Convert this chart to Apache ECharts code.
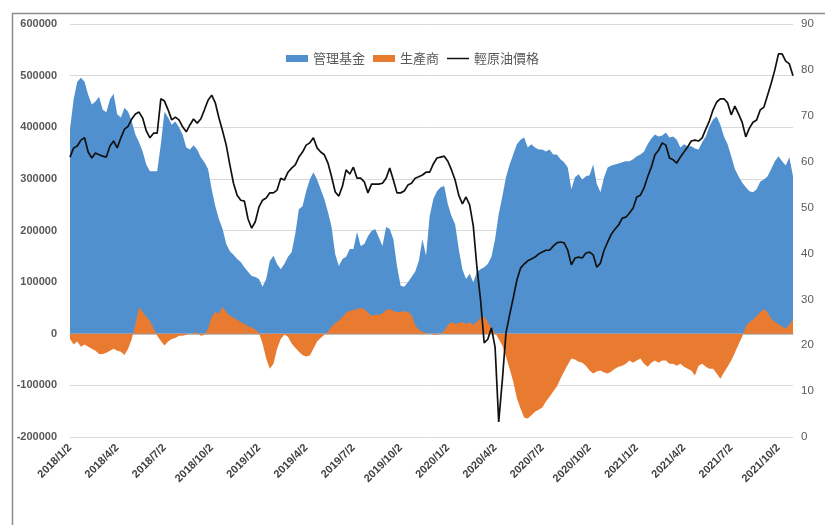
<!DOCTYPE html>
<html>
<head>
<meta charset="utf-8">
<title>管理基金 / 生產商 / 輕原油價格</title>
<script src="https://cdn.jsdelivr.net/npm/echarts@6/dist/echarts.min.js"></script>
<style>
  html, body { margin: 0; padding: 0; background: #fff; }
  #oil-position-echarts { width: 825px; height: 525px; }
</style>
</head>
<body>
<div id="oil-position-echarts"></div>
<script>
// 每週資料，自 2018/1/2 起
var startDate = [2018, 0, 2];

// 管理基金淨部位
var managedMoney = [
  396000, 454000, 488000, 496000, 488000, 463000, 444000, 450000, 459000, 434000,
  429000, 454000, 465000, 425000, 419000, 438000, 430000, 411000, 386000, 371000,
  353000, 328000, 315000, 315000, 315000, 367000, 430000, 419000, 405000, 411000,
  400000, 386000, 361000, 357000, 365000, 357000, 342000, 332000, 319000, 280000,
  247000, 222000, 203000, 174000, 160000, 153000, 145000, 139000, 129000, 120000,
  112000, 110000, 106000, 91000, 106000, 141000, 151000, 135000, 125000, 135000,
  149000, 158000, 193000, 241000, 247000, 276000, 299000, 313000, 299000, 280000,
  261000, 236000, 207000, 154000, 131000, 145000, 149000, 164000, 164000, 197000,
  170000, 174000, 189000, 199000, 203000, 187000, 170000, 207000, 203000, 183000,
  131000, 93000, 91000, 100000, 110000, 120000, 141000, 183000, 151000, 228000,
  261000, 276000, 284000, 286000, 251000, 228000, 212000, 164000, 125000, 106000,
  116000, 100000, 120000, 125000, 129000, 135000, 149000, 183000, 232000, 266000,
  303000, 328000, 347000, 367000, 376000, 380000, 361000, 367000, 361000, 357000,
  357000, 353000, 357000, 347000, 347000, 338000, 332000, 322000, 280000, 303000,
  309000, 299000, 305000, 307000, 328000, 290000, 274000, 303000, 322000, 326000,
  328000, 330000, 332000, 334000, 334000, 338000, 344000, 347000, 353000, 367000,
  378000, 386000, 382000, 384000, 390000, 380000, 382000, 376000, 361000, 367000,
  363000, 363000, 359000, 357000, 371000, 382000, 402000, 415000, 421000, 405000,
  382000, 367000, 344000, 319000, 305000, 293000, 284000, 276000, 274000, 280000,
  295000, 299000, 305000, 319000, 334000, 344000, 334000, 326000, 342000, 305000
];

// 生產商淨部位
var producers = [
  -10000, -21000, -15000, -25000, -21000, -25000, -29000, -33000, -39000, -39000,
  -37000, -33000, -29000, -33000, -35000, -41000, -29000, -10000, 19000, 52000,
  42000, 33000, 25000, 10000, -4000, -14000, -23000, -15000, -10000, -8000,
  -4000, -4000, -2000, 0, 2000, 2000, -4000, -2000, 10000, 33000,
  42000, 39000, 52000, 42000, 35000, 31000, 27000, 23000, 19000, 15000,
  12000, 8000, 2000, -19000, -48000, -68000, -58000, -29000, -10000, -2000,
  -6000, -19000, -27000, -35000, -41000, -44000, -42000, -29000, -15000, -8000,
  -2000, 4000, 14000, 21000, 25000, 33000, 41000, 44000, 46000, 48000,
  50000, 48000, 41000, 35000, 37000, 37000, 39000, 46000, 48000, 44000,
  42000, 42000, 44000, 42000, 37000, 17000, 8000, 4000, 2000, 0,
  -2000, -2000, 0, 6000, 17000, 23000, 19000, 21000, 23000, 19000,
  23000, 17000, 23000, 31000, 33000, 23000, 12000, 2000, -10000, -23000,
  -44000, -68000, -93000, -125000, -145000, -162000, -164000, -158000, -151000, -147000,
  -143000, -131000, -122000, -112000, -102000, -87000, -73000, -60000, -48000, -50000,
  -54000, -56000, -62000, -71000, -77000, -73000, -71000, -75000, -77000, -73000,
  -68000, -64000, -62000, -58000, -52000, -56000, -52000, -48000, -58000, -64000,
  -56000, -52000, -56000, -52000, -52000, -58000, -58000, -62000, -58000, -64000,
  -68000, -71000, -81000, -62000, -58000, -64000, -68000, -68000, -77000, -87000,
  -75000, -64000, -52000, -37000, -21000, -6000, 14000, 23000, 27000, 35000,
  42000, 48000, 41000, 29000, 23000, 19000, 14000, 10000, 17000, 29000
];

// 輕原油價格
var oilPrice = [
  61.0, 63.0, 63.4, 64.7, 65.2, 62.1, 60.8, 61.9, 61.5, 61.2,
  61.0, 63.4, 64.5, 63.0, 65.2, 67.1, 67.7, 69.3, 70.4, 70.8,
  69.5, 66.7, 65.2, 66.2, 66.2, 73.7, 73.2, 71.3, 69.1, 69.7,
  69.1, 67.6, 66.5, 68.0, 69.3, 68.4, 69.3, 71.3, 73.4, 74.5,
  72.8, 69.5, 66.7, 63.6, 59.3, 55.3, 52.7, 51.6, 51.4, 47.5,
  45.5, 46.9, 50.1, 51.6, 52.1, 53.2, 53.2, 53.8, 56.4, 56.0,
  57.7, 58.6, 59.3, 61.0, 62.1, 63.6, 64.1, 65.2, 63.0, 62.1,
  61.5, 59.7, 56.7, 53.4, 52.5, 54.7, 58.2, 57.3, 58.8, 56.4,
  56.4, 55.6, 53.2, 55.1, 55.1, 55.1, 55.3, 56.4, 58.6, 56.0,
  53.2, 53.2, 53.6, 54.9, 55.3, 56.4, 56.7, 57.1, 57.7, 57.7,
  59.5, 60.8, 61.0, 61.2, 60.1, 58.2, 56.0, 52.7, 50.8, 52.3,
  50.6, 46.0, 37.0, 29.9, 20.5, 21.3, 23.8, 19.6, 3.3, 12.4,
  22.7, 26.6, 30.3, 34.2, 36.8, 37.7, 38.4, 38.8, 39.2, 39.9,
  40.3, 40.7, 40.7, 41.6, 42.3, 42.5, 42.3, 40.7, 37.5, 39.0,
  39.2, 39.0, 40.1, 40.3, 39.7, 37.0, 37.9, 40.7, 42.5, 44.2,
  45.3, 46.2, 47.7, 47.9, 48.8, 49.9, 52.3, 52.7, 54.3, 56.7,
  58.8, 61.5, 62.5, 64.1, 63.6, 60.8, 60.4, 59.7, 61.0, 62.1,
  63.2, 64.5, 64.7, 64.5, 65.2, 67.1, 68.9, 71.3, 73.0, 73.7,
  73.7, 72.8, 70.2, 72.1, 70.4, 68.6, 65.4, 67.3, 68.6, 69.1,
  71.3, 71.9, 74.5, 77.1, 80.0, 83.5, 83.5, 81.9, 81.3, 78.7
];

// 橫軸刻度文字（每季一個）
var tickLabels = [
  "2018/1/2", "2018/4/2", "2018/7/2", "2018/10/2",
  "2019/1/2", "2019/4/2", "2019/7/2", "2019/10/2",
  "2020/1/2", "2020/4/2", "2020/7/2", "2020/10/2",
  "2021/1/2", "2021/4/2", "2021/7/2", "2021/10/2"
];
var tickStep = 13; // 每季約 13 週

// 週日期類目
var categories = [];
for (var i = 0; i < oilPrice.length; i++) {
  var d = new Date(startDate[0], startDate[1], startDate[2] + 7 * i);
  categories.push(d.getFullYear() + "/" + (d.getMonth() + 1) + "/" + d.getDate());
}

var labelFont = "'Liberation Sans', 'Noto Sans CJK TC', sans-serif";
// 圖例的細線圖示（上下兩條極細的線只用來撐開外框）
var lineIcon = "path://M0,0L22,0L22,0.01L0,0.01Z M0,2.7L22,2.7L22,4.3L0,4.3Z M0,7L22,7L22,7.01L0,7.01Z";

var myChart = echarts.init(document.getElementById("oil-position-echarts"));
var option = {
  animation: false,
  backgroundColor: "#fff",
  // 外框
  graphic: [
    {
      type: "rect",
      left: 10,
      top: 11,
      shape: { width: 840, height: 540 },
      style: { fill: "none", stroke: "#8c8c8c", lineWidth: 1.5 },
      silent: true
    }
  ],
  legend: {
    top: 47,
    left: "center",
    itemWidth: 22,
    itemHeight: 7,
    itemGap: 8,
    textStyle: {
      color: "#595959",
      fontSize: 13,
      fontFamily: "'Noto Sans CJK TC', sans-serif"
    },
    data: [
      { name: "管理基金", icon: "rect" },
      { name: "生產商", icon: "rect" },
      { name: "輕原油價格", icon: lineIcon, itemStyle: { color: "#111" } }
    ]
  },
  grid: {
    left: 70,
    right: 32,
    top: 24,
    bottom: 88
  },
  xAxis: [
    {
      type: "category",
      boundaryGap: false,
      data: categories,
      axisLine: { show: false, onZero: false },
      axisTick: { show: false },
      axisLabel: {
        rotate: 45,
        margin: 9,
        color: "#404040",
        fontSize: 11,
        fontWeight: "bold",
        fontFamily: labelFont,
        interval: function (index) {
          return index % tickStep === 0;
        },
        formatter: function (value, index) {
          return tickLabels[index / tickStep] || "";
        }
      },
      splitLine: { show: false }
    },
    {
      // 零軸線
      type: "category",
      boundaryGap: false,
      data: categories,
      axisLine: {
        show: true,
        onZero: true,
        onZeroAxisIndex: 0,
        lineStyle: { color: "#bfbfbf", width: 1 }
      },
      axisTick: {
        show: true,
        length: 4,
        lineStyle: { color: "#bfbfbf" },
        interval: function (index) {
          return index % tickStep === 0;
        }
      },
      axisLabel: { show: false },
      splitLine: { show: false }
    }
  ],
  yAxis: [
    {
      type: "value",
      min: -200000,
      max: 600000,
      interval: 100000,
      axisLine: { show: false },
      axisTick: { show: false },
      axisLabel: {
        color: "#595959",
        fontSize: 11,
        fontWeight: "bold",
        fontFamily: labelFont,
        margin: 13,
        formatter: function (v) { return String(v); }
      },
      splitLine: { lineStyle: { color: "#d9d9d9", width: 1 } }
    },
    {
      type: "value",
      min: 0,
      max: 90,
      interval: 10,
      axisLine: { show: false },
      axisTick: { show: false },
      axisLabel: {
        color: "#595959",
        fontSize: 11.5,
        fontFamily: labelFont,
        margin: 8
      },
      splitLine: { show: false }
    }
  ],
  series: [
    {
      name: "管理基金",
      type: "line",
      data: managedMoney,
      xAxisIndex: 0,
      yAxisIndex: 0,
      symbol: "none",
      lineStyle: { width: 0 },
      itemStyle: { color: "#5190cf" },
      areaStyle: { color: "#5190cf", opacity: 1 },
      z: 2
    },
    {
      name: "生產商",
      type: "line",
      data: producers,
      xAxisIndex: 0,
      yAxisIndex: 0,
      symbol: "none",
      lineStyle: { width: 0 },
      itemStyle: { color: "#e97b30" },
      areaStyle: { color: "#e97b30", opacity: 1 },
      z: 3
    },
    {
      name: "輕原油價格",
      type: "line",
      data: oilPrice,
      xAxisIndex: 0,
      yAxisIndex: 1,
      symbol: "none",
      lineStyle: { color: "#111", width: 1.7 },
      itemStyle: { color: "#111" },
      z: 5
    }
  ]
};
myChart.setOption(option);
</script>
</body>
</html>
